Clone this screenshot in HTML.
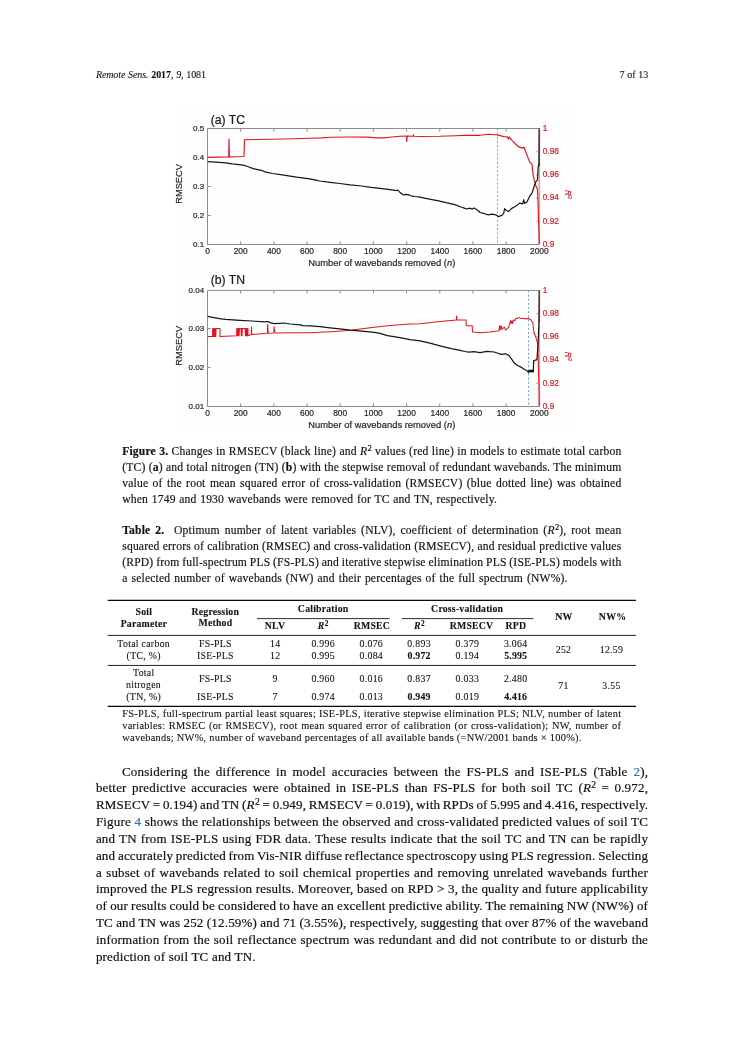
<!DOCTYPE html>
<html lang="en"><head><meta charset="utf-8"><title>Remote Sens. 2017, 9, 1081</title>
<style>
html,body{margin:0;padding:0;background:#fff;}
body{width:745px;height:1053px;position:relative;overflow:hidden;font-family:"Liberation Serif",serif;color:#111;}
#pg{position:absolute;left:0;top:0;width:745px;height:1053px;will-change:transform;}
.l{position:absolute;white-space:nowrap;margin:0;padding:0;}
.b{-webkit-text-stroke:0.2px;font-size:13.0px;line-height:16px;letter-spacing:0.2px;}
.c{-webkit-text-stroke:0.16px;font-size:11.6px;line-height:15px;letter-spacing:0.2px;}
.h{-webkit-text-stroke:0.1px;font-size:10.0px;line-height:14px;letter-spacing:0.15px;}
.f{-webkit-text-stroke:0.1px;font-size:10.4px;line-height:12px;letter-spacing:0.15px;}
.t{-webkit-text-stroke:0.1px;font-size:9.8px;line-height:12px;letter-spacing:0.3px;text-align:center;white-space:nowrap;}
.r{position:absolute;background:#000;height:1px;}
sup{font-size:0.74em;line-height:0;vertical-align:baseline;position:relative;top:-0.44em;letter-spacing:0;margin-left:0.03em;}
.t b{letter-spacing:0.2px;}
a{color:#2d75b8;text-decoration:none;}
b{font-weight:bold;}
svg text{font-family:"Liberation Sans",sans-serif;}
</style></head>
<body>
<div id="pg">
<div class="l j h" style="top:68px;left:95.9px;letter-spacing:-0.1px;word-spacing:0.434px;"><i>Remote Sens.</i> <b>2017</b>, <i>9</i>, 1081</div>
<div class="l j h" style="top:68px;left:619.5px;letter-spacing:-0.1px;word-spacing:0.48px;">7 of 13</div>
<svg width="745" height="440" viewBox="0 0 745 440" style="position:absolute;left:0;top:0">
<rect x="176" y="108.5" width="399" height="324.5" fill="#fefefe"/>
<rect x="207.5" y="128.5" width="331.8" height="116.0" fill="#fefefe"/>
<rect x="207.5" y="290.4" width="331.8" height="116.1" fill="#fefefe"/>
<line x1="207.5" y1="128.5" x2="207.5" y2="244.5" stroke="#8c8c8c" stroke-width="1.0" />
<line x1="207.5" y1="128.5" x2="539.3" y2="128.5" stroke="#8c8c8c" stroke-width="1.0" />
<line x1="207.5" y1="244.5" x2="539.3" y2="244.5" stroke="#8c8c8c" stroke-width="1.0" />
<line x1="539.3" y1="128.5" x2="539.3" y2="244.5" stroke="#f59696" stroke-width="1.6" />
<text x="207.5" y="253.9" font-size="8.4" fill="#262626" stroke="#262626" stroke-width="0.2" text-anchor="middle" >0</text>
<line x1="240.7" y1="244.5" x2="240.7" y2="241.3" stroke="#8c8c8c" stroke-width="1.0" />
<line x1="240.7" y1="128.5" x2="240.7" y2="131.7" stroke="#8c8c8c" stroke-width="1.0" />
<text x="240.7" y="253.9" font-size="8.4" fill="#262626" stroke="#262626" stroke-width="0.2" text-anchor="middle" >200</text>
<line x1="273.9" y1="244.5" x2="273.9" y2="241.3" stroke="#8c8c8c" stroke-width="1.0" />
<line x1="273.9" y1="128.5" x2="273.9" y2="131.7" stroke="#8c8c8c" stroke-width="1.0" />
<text x="273.9" y="253.9" font-size="8.4" fill="#262626" stroke="#262626" stroke-width="0.2" text-anchor="middle" >400</text>
<line x1="307.0" y1="244.5" x2="307.0" y2="241.3" stroke="#8c8c8c" stroke-width="1.0" />
<line x1="307.0" y1="128.5" x2="307.0" y2="131.7" stroke="#8c8c8c" stroke-width="1.0" />
<text x="307.0" y="253.9" font-size="8.4" fill="#262626" stroke="#262626" stroke-width="0.2" text-anchor="middle" >600</text>
<line x1="340.2" y1="244.5" x2="340.2" y2="241.3" stroke="#8c8c8c" stroke-width="1.0" />
<line x1="340.2" y1="128.5" x2="340.2" y2="131.7" stroke="#8c8c8c" stroke-width="1.0" />
<text x="340.2" y="253.9" font-size="8.4" fill="#262626" stroke="#262626" stroke-width="0.2" text-anchor="middle" >800</text>
<line x1="373.4" y1="244.5" x2="373.4" y2="241.3" stroke="#8c8c8c" stroke-width="1.0" />
<line x1="373.4" y1="128.5" x2="373.4" y2="131.7" stroke="#8c8c8c" stroke-width="1.0" />
<text x="373.4" y="253.9" font-size="8.4" fill="#262626" stroke="#262626" stroke-width="0.2" text-anchor="middle" >1000</text>
<line x1="406.6" y1="244.5" x2="406.6" y2="241.3" stroke="#8c8c8c" stroke-width="1.0" />
<line x1="406.6" y1="128.5" x2="406.6" y2="131.7" stroke="#8c8c8c" stroke-width="1.0" />
<text x="406.6" y="253.9" font-size="8.4" fill="#262626" stroke="#262626" stroke-width="0.2" text-anchor="middle" >1200</text>
<line x1="439.8" y1="244.5" x2="439.8" y2="241.3" stroke="#8c8c8c" stroke-width="1.0" />
<line x1="439.8" y1="128.5" x2="439.8" y2="131.7" stroke="#8c8c8c" stroke-width="1.0" />
<text x="439.8" y="253.9" font-size="8.4" fill="#262626" stroke="#262626" stroke-width="0.2" text-anchor="middle" >1400</text>
<line x1="472.9" y1="244.5" x2="472.9" y2="241.3" stroke="#8c8c8c" stroke-width="1.0" />
<line x1="472.9" y1="128.5" x2="472.9" y2="131.7" stroke="#8c8c8c" stroke-width="1.0" />
<text x="472.9" y="253.9" font-size="8.4" fill="#262626" stroke="#262626" stroke-width="0.2" text-anchor="middle" >1600</text>
<line x1="506.1" y1="244.5" x2="506.1" y2="241.3" stroke="#8c8c8c" stroke-width="1.0" />
<line x1="506.1" y1="128.5" x2="506.1" y2="131.7" stroke="#8c8c8c" stroke-width="1.0" />
<text x="506.1" y="253.9" font-size="8.4" fill="#262626" stroke="#262626" stroke-width="0.2" text-anchor="middle" >1800</text>
<text x="539.3" y="253.9" font-size="8.4" fill="#262626" stroke="#262626" stroke-width="0.2" text-anchor="middle" >2000</text>
<text x="204.2" y="131.2" font-size="8.0" fill="#262626" stroke="#262626" stroke-width="0.2" text-anchor="end" >0.5</text>
<line x1="207.5" y1="157.5" x2="210.7" y2="157.5" stroke="#8c8c8c" stroke-width="1.0" />
<text x="204.2" y="160.2" font-size="8.0" fill="#262626" stroke="#262626" stroke-width="0.2" text-anchor="end" >0.4</text>
<line x1="207.5" y1="186.5" x2="210.7" y2="186.5" stroke="#8c8c8c" stroke-width="1.0" />
<text x="204.2" y="189.2" font-size="8.0" fill="#262626" stroke="#262626" stroke-width="0.2" text-anchor="end" >0.3</text>
<line x1="207.5" y1="215.5" x2="210.7" y2="215.5" stroke="#8c8c8c" stroke-width="1.0" />
<text x="204.2" y="218.2" font-size="8.0" fill="#262626" stroke="#262626" stroke-width="0.2" text-anchor="end" >0.2</text>
<text x="204.2" y="247.2" font-size="8.0" fill="#262626" stroke="#262626" stroke-width="0.2" text-anchor="end" >0.1</text>
<text x="542.8" y="130.8" font-size="8.2" fill="#dc1626" stroke="#dc1626" stroke-width="0.2" text-anchor="start" >1</text>
<line x1="539.3" y1="151.7" x2="536.1" y2="151.7" stroke="#f59696" stroke-width="1.0" />
<text x="542.8" y="154.0" font-size="8.2" fill="#dc1626" stroke="#dc1626" stroke-width="0.2" text-anchor="start" >0.98</text>
<line x1="539.3" y1="174.9" x2="536.1" y2="174.9" stroke="#f59696" stroke-width="1.0" />
<text x="542.8" y="177.2" font-size="8.2" fill="#dc1626" stroke="#dc1626" stroke-width="0.2" text-anchor="start" >0.96</text>
<line x1="539.3" y1="198.1" x2="536.1" y2="198.1" stroke="#f59696" stroke-width="1.0" />
<text x="542.8" y="200.4" font-size="8.2" fill="#dc1626" stroke="#dc1626" stroke-width="0.2" text-anchor="start" >0.94</text>
<line x1="539.3" y1="221.3" x2="536.1" y2="221.3" stroke="#f59696" stroke-width="1.0" />
<text x="542.8" y="223.6" font-size="8.2" fill="#dc1626" stroke="#dc1626" stroke-width="0.2" text-anchor="start" >0.92</text>
<text x="542.8" y="246.8" font-size="8.2" fill="#dc1626" stroke="#dc1626" stroke-width="0.2" text-anchor="start" >0.9</text>
<text x="210.7" y="123.7" font-size="12.2" fill="#1a1a1a" stroke="#1a1a1a" stroke-width="0.2" text-anchor="start" >(a) TC</text>
<text x="381.8" y="266.2" font-size="9.4" fill="#262626" stroke="#262626" stroke-width="0.2" text-anchor="middle" >Number of wavebands removed (<tspan font-style="italic">n</tspan>)</text>
<text transform="translate(182.1,183.9) rotate(-90)" font-size="9.3" fill="#262626" stroke="#262626" stroke-width="0.2" text-anchor="middle">RMSECV</text>
<text transform="translate(565.0,189.9) rotate(90)" font-size="8.5" fill="#dc1626" stroke="#dc1626" stroke-width="0.15"><tspan font-style="italic">R</tspan><tspan font-size="5.5" dy="-3">2</tspan></text>
<line x1="497.5" y1="128.5" x2="497.5" y2="244.5" stroke="#3b82c4" stroke-width="0.7" stroke-dasharray="2.1 2.05"/>
<polyline points="207.5,157.4 228.7,156.9 229.0,139.0 229.4,156.9 244.0,156.5 244.5,139.8 270.0,139.3 295.0,138.8 310.0,138.2 322.0,137.9 330.0,137.2 350.0,137.0 368.0,137.1 376.0,137.9 384.0,137.9 392.0,137.0 400.0,136.2 406.5,136.1 406.8,141.4 407.2,136.1 413.2,136.2 413.5,134.8 413.8,136.3 420.0,136.5 440.0,136.3 455.0,135.8 463.6,135.4 480.0,135.3 488.3,134.3 495.4,134.7 498.4,135.1 503.7,136.6 507.3,136.9 508.5,139.2 509.1,136.9 512.0,140.4 515.6,144.0 518.0,146.4 522.1,148.1 524.1,147.3 525.7,151.7 528.6,159.4 530.4,163.0 532.0,164.1 532.8,172.5 534.0,179.6 535.8,185.5 537.5,189.6 538.1,205.7 538.5,219.9 539.0,231.8 539.3,244.3" fill="none" stroke="#e21420" stroke-width="1.15" stroke-linejoin="round" />
<polyline points="207.7,161.6 216.1,162.2 225.8,162.8 232.2,163.8 243.5,165.1 248.3,166.7 253.2,168.6 261.2,170.3 265.2,171.9 272.5,173.5 283.8,175.1 296.6,177.2 309.5,178.8 316.0,180.2 319.7,181.0 330.0,182.3 340.0,183.5 350.0,184.8 361.6,186.0 371.0,187.3 380.0,188.3 390.0,189.6 397.0,190.6 398.0,190.0 399.5,192.0 403.5,195.0 406.0,194.4 408.0,194.6 411.0,195.8 415.0,196.5 420.0,197.1 428.0,198.8 437.5,200.6 446.0,202.7 454.9,204.6 461.0,207.0 465.0,208.4 467.1,209.0 470.0,208.2 472.0,209.1 474.1,208.0 478.0,210.5 480.0,212.5 484.7,213.7 488.3,214.9 491.9,214.2 496.0,214.9 498.4,216.6 501.9,215.4 503.7,213.4 504.6,208.6 505.5,209.8 508.5,211.6 511.4,208.6 515.6,206.3 519.7,203.1 522.7,203.9 523.7,199.7 524.5,203.3 526.9,202.1 529.8,196.2 532.2,192.6 534.0,186.7 535.8,181.9 537.5,180.2 538.1,167.7 539.0,163.0 539.3,128.6" fill="none" stroke="#151515" stroke-width="1.2" stroke-linejoin="round" />
<line x1="539.4" y1="128.5" x2="539.4" y2="166.0" stroke="#444" stroke-width="1.3" />
<line x1="207.5" y1="290.4" x2="207.5" y2="406.5" stroke="#8c8c8c" stroke-width="1.0" />
<line x1="207.5" y1="290.4" x2="539.3" y2="290.4" stroke="#8c8c8c" stroke-width="1.0" />
<line x1="207.5" y1="406.5" x2="539.3" y2="406.5" stroke="#8c8c8c" stroke-width="1.0" />
<line x1="539.3" y1="290.4" x2="539.3" y2="406.5" stroke="#f59696" stroke-width="1.6" />
<text x="207.5" y="415.9" font-size="8.4" fill="#262626" stroke="#262626" stroke-width="0.2" text-anchor="middle" >0</text>
<line x1="240.7" y1="406.5" x2="240.7" y2="403.3" stroke="#8c8c8c" stroke-width="1.0" />
<line x1="240.7" y1="290.4" x2="240.7" y2="293.6" stroke="#8c8c8c" stroke-width="1.0" />
<text x="240.7" y="415.9" font-size="8.4" fill="#262626" stroke="#262626" stroke-width="0.2" text-anchor="middle" >200</text>
<line x1="273.9" y1="406.5" x2="273.9" y2="403.3" stroke="#8c8c8c" stroke-width="1.0" />
<line x1="273.9" y1="290.4" x2="273.9" y2="293.6" stroke="#8c8c8c" stroke-width="1.0" />
<text x="273.9" y="415.9" font-size="8.4" fill="#262626" stroke="#262626" stroke-width="0.2" text-anchor="middle" >400</text>
<line x1="307.0" y1="406.5" x2="307.0" y2="403.3" stroke="#8c8c8c" stroke-width="1.0" />
<line x1="307.0" y1="290.4" x2="307.0" y2="293.6" stroke="#8c8c8c" stroke-width="1.0" />
<text x="307.0" y="415.9" font-size="8.4" fill="#262626" stroke="#262626" stroke-width="0.2" text-anchor="middle" >600</text>
<line x1="340.2" y1="406.5" x2="340.2" y2="403.3" stroke="#8c8c8c" stroke-width="1.0" />
<line x1="340.2" y1="290.4" x2="340.2" y2="293.6" stroke="#8c8c8c" stroke-width="1.0" />
<text x="340.2" y="415.9" font-size="8.4" fill="#262626" stroke="#262626" stroke-width="0.2" text-anchor="middle" >800</text>
<line x1="373.4" y1="406.5" x2="373.4" y2="403.3" stroke="#8c8c8c" stroke-width="1.0" />
<line x1="373.4" y1="290.4" x2="373.4" y2="293.6" stroke="#8c8c8c" stroke-width="1.0" />
<text x="373.4" y="415.9" font-size="8.4" fill="#262626" stroke="#262626" stroke-width="0.2" text-anchor="middle" >1000</text>
<line x1="406.6" y1="406.5" x2="406.6" y2="403.3" stroke="#8c8c8c" stroke-width="1.0" />
<line x1="406.6" y1="290.4" x2="406.6" y2="293.6" stroke="#8c8c8c" stroke-width="1.0" />
<text x="406.6" y="415.9" font-size="8.4" fill="#262626" stroke="#262626" stroke-width="0.2" text-anchor="middle" >1200</text>
<line x1="439.8" y1="406.5" x2="439.8" y2="403.3" stroke="#8c8c8c" stroke-width="1.0" />
<line x1="439.8" y1="290.4" x2="439.8" y2="293.6" stroke="#8c8c8c" stroke-width="1.0" />
<text x="439.8" y="415.9" font-size="8.4" fill="#262626" stroke="#262626" stroke-width="0.2" text-anchor="middle" >1400</text>
<line x1="472.9" y1="406.5" x2="472.9" y2="403.3" stroke="#8c8c8c" stroke-width="1.0" />
<line x1="472.9" y1="290.4" x2="472.9" y2="293.6" stroke="#8c8c8c" stroke-width="1.0" />
<text x="472.9" y="415.9" font-size="8.4" fill="#262626" stroke="#262626" stroke-width="0.2" text-anchor="middle" >1600</text>
<line x1="506.1" y1="406.5" x2="506.1" y2="403.3" stroke="#8c8c8c" stroke-width="1.0" />
<line x1="506.1" y1="290.4" x2="506.1" y2="293.6" stroke="#8c8c8c" stroke-width="1.0" />
<text x="506.1" y="415.9" font-size="8.4" fill="#262626" stroke="#262626" stroke-width="0.2" text-anchor="middle" >1800</text>
<text x="539.3" y="415.9" font-size="8.4" fill="#262626" stroke="#262626" stroke-width="0.2" text-anchor="middle" >2000</text>
<text x="204.2" y="293.0" font-size="8.0" fill="#262626" stroke="#262626" stroke-width="0.2" text-anchor="end" >0.04</text>
<line x1="207.5" y1="328.5" x2="210.7" y2="328.5" stroke="#8c8c8c" stroke-width="1.0" />
<text x="204.2" y="331.2" font-size="8.0" fill="#262626" stroke="#262626" stroke-width="0.2" text-anchor="end" >0.03</text>
<line x1="207.5" y1="367.4" x2="210.7" y2="367.4" stroke="#8c8c8c" stroke-width="1.0" />
<text x="204.2" y="370.1" font-size="8.0" fill="#262626" stroke="#262626" stroke-width="0.2" text-anchor="end" >0.02</text>
<text x="204.2" y="409.0" font-size="8.0" fill="#262626" stroke="#262626" stroke-width="0.2" text-anchor="end" >0.01</text>
<text x="542.8" y="292.7" font-size="8.2" fill="#dc1626" stroke="#dc1626" stroke-width="0.2" text-anchor="start" >1</text>
<line x1="539.3" y1="313.6" x2="536.1" y2="313.6" stroke="#f59696" stroke-width="1.0" />
<text x="542.8" y="315.9" font-size="8.2" fill="#dc1626" stroke="#dc1626" stroke-width="0.2" text-anchor="start" >0.98</text>
<line x1="539.3" y1="336.8" x2="536.1" y2="336.8" stroke="#f59696" stroke-width="1.0" />
<text x="542.8" y="339.1" font-size="8.2" fill="#dc1626" stroke="#dc1626" stroke-width="0.2" text-anchor="start" >0.96</text>
<line x1="539.3" y1="360.1" x2="536.1" y2="360.1" stroke="#f59696" stroke-width="1.0" />
<text x="542.8" y="362.4" font-size="8.2" fill="#dc1626" stroke="#dc1626" stroke-width="0.2" text-anchor="start" >0.94</text>
<line x1="539.3" y1="383.3" x2="536.1" y2="383.3" stroke="#f59696" stroke-width="1.0" />
<text x="542.8" y="385.6" font-size="8.2" fill="#dc1626" stroke="#dc1626" stroke-width="0.2" text-anchor="start" >0.92</text>
<text x="542.8" y="408.8" font-size="8.2" fill="#dc1626" stroke="#dc1626" stroke-width="0.2" text-anchor="start" >0.9</text>
<text x="210.7" y="283.5" font-size="12.2" fill="#1a1a1a" stroke="#1a1a1a" stroke-width="0.2" text-anchor="start" >(b) TN</text>
<text x="381.8" y="428.2" font-size="9.4" fill="#262626" stroke="#262626" stroke-width="0.2" text-anchor="middle" >Number of wavebands removed (<tspan font-style="italic">n</tspan>)</text>
<text transform="translate(182.1,345.8) rotate(-90)" font-size="9.3" fill="#262626" stroke="#262626" stroke-width="0.2" text-anchor="middle">RMSECV</text>
<text transform="translate(565.0,351.8) rotate(90)" font-size="8.5" fill="#dc1626" stroke="#dc1626" stroke-width="0.15"><tspan font-style="italic">R</tspan><tspan font-size="5.5" dy="-3">2</tspan></text>
<line x1="528.5" y1="290.4" x2="528.5" y2="406.5" stroke="#3b82c4" stroke-width="0.7" stroke-dasharray="2.1 2.05"/>
<polyline points="207.5,336.6 212.6,336.4 212.6,328.5 212.6,328.5 212.9,336.4 213.3,328.5 213.6,336.4 214.0,328.5 214.3,336.4 214.7,328.5 215.0,336.4 215.4,328.5 215.7,336.4 216.1,328.5 220.0,328.5 220.0,336.4 236.6,335.8 236.7,335.7 236.7,328.5 236.7,328.5 237.0,335.7 237.4,328.5 237.7,335.7 238.1,328.5 238.4,335.7 238.8,328.5 239.1,335.7 239.5,328.5 241.0,328.5 241.3,335.7 241.7,328.5 242.0,335.7 242.4,328.5 245.1,328.5 245.4,335.7 245.8,328.5 246.1,335.7 246.5,328.5 246.8,335.7 247.2,328.5 247.5,335.7 247.9,328.5 248.0,328.5 248.0,335.7 251.3,334.4 251.5,327.0 251.8,334.4 267.3,333.2 267.6,324.4 268.2,333.2 273.8,333.1 274.1,326.8 274.6,332.0 275.5,333.0 290.0,332.8 310.0,332.7 320.0,332.3 335.0,331.4 350.3,330.3 370.0,327.8 390.0,325.6 410.0,324.0 420.0,323.7 440.0,321.6 456.3,320.0 456.6,316.0 456.9,320.0 466.0,320.1 466.3,325.7 472.2,325.8 472.5,332.1 480.0,332.8 489.5,331.9 499.0,330.7 499.6,325.9 500.2,329.6 500.8,325.9 501.4,326.2 501.9,329.5 504.3,327.1 505.5,330.1 508.5,327.7 510.6,320.6 511.2,323.4 512.0,321.0 512.6,323.4 513.2,320.0 515.0,320.6 515.6,318.8 519.1,317.6 521.0,318.6 523.9,318.4 526.0,319.0 528.3,318.2 531.0,320.0 532.8,323.0 534.0,332.5 535.8,337.2 537.8,344.3 538.4,368.0 539.0,386.5 539.3,406.3" fill="none" stroke="#e21420" stroke-width="1.05" stroke-linejoin="round" />
<polyline points="207.7,316.4 214.0,317.6 221.0,318.9 226.0,319.4 240.0,320.3 252.0,321.0 264.4,321.8 268.0,321.5 270.0,322.6 274.1,323.7 280.0,323.3 284.0,323.0 290.0,324.0 300.0,324.9 303.0,325.6 310.0,325.8 320.0,326.6 330.0,327.8 342.2,329.2 350.0,330.2 362.0,331.2 374.5,332.3 380.0,333.4 387.4,335.6 400.0,337.6 410.0,339.6 420.0,340.8 430.0,343.2 440.0,345.8 451.4,348.7 460.0,350.4 465.0,351.5 468.9,352.2 474.0,351.6 480.0,352.6 487.1,351.4 494.2,352.0 497.8,353.2 501.4,354.4 505.5,353.8 509.1,355.6 512.0,359.7 514.4,363.3 518.0,365.7 521.5,367.4 525.1,369.8 527.6,371.0 528.3,372.6 528.9,370.6 529.4,372.0 529.9,370.2 530.4,371.8 530.9,370.3 531.4,371.9 531.9,370.1 532.4,371.8 532.9,370.2 533.4,371.9 533.6,360.9 536.9,359.5 538.1,344.3 539.0,320.6 539.4,290.4" fill="none" stroke="#151515" stroke-width="1.2" stroke-linejoin="round" />
<line x1="539.4" y1="290.4" x2="539.4" y2="322.0" stroke="#444" stroke-width="1.3" />
</svg>
<div class="l j c" style="top:444px;left:122.2px;letter-spacing:0.19px;word-spacing:0.173px;"><b>Figure 3.</b> Changes in RMSECV (black line) and <i>R</i><sup>2</sup> values (red line) in models to estimate total carbon</div>
<div class="l j c" style="top:460px;left:122.2px;letter-spacing:0.19px;word-spacing:0.111px;">(TC) (<b>a</b>) and total nitrogen (TN) (<b>b</b>) with the stepwise removal of redundant wavebands. The minimum</div>
<div class="l j c" style="top:476px;left:122.2px;letter-spacing:0.19px;word-spacing:1.271px;">value of the root mean squared error of cross-validation (RMSECV) (blue dotted line) was obtained</div>
<div class="l j c" style="top:492px;left:122.2px;letter-spacing:0.19px;word-spacing:0.521px;">when 1749 and 1930 wavebands were removed for TC and TN, respectively.</div>
<div class="l j c" style="top:523px;left:122.2px;letter-spacing:0.19px;word-spacing:1.76px;"><b>Table 2.</b>&nbsp; Optimum number of latent variables (NLV), coefficient of determination (<i>R</i><sup>2</sup>), root mean</div>
<div class="l j c" style="top:539px;left:122.2px;letter-spacing:0.19px;word-spacing:0.059px;">squared errors of calibration (RMSEC) and cross-validation (RMSECV), and residual predictive values</div>
<div class="l j c" style="top:555px;left:122.2px;letter-spacing:0.19px;word-spacing:-0.366px;">(RPD) from full-spectrum PLS (FS-PLS) and iterative stepwise elimination PLS (ISE-PLS) models with</div>
<div class="l j c" style="top:571px;left:122.2px;letter-spacing:0.19px;word-spacing:0.835px;">a selected number of wavebands (NW) and their percentages of the full spectrum (NW%).</div>
<svg width="745" height="120" viewBox="0 595 745 120" style="position:absolute;left:0;top:595px"><line x1="107.7" y1="600.3" x2="636.0" y2="600.3" stroke="#0a0a0a" stroke-width="1.25"/><line x1="257.0" y1="618.6" x2="389.6" y2="618.6" stroke="#0a0a0a" stroke-width="0.85"/><line x1="401.7" y1="618.6" x2="533.4" y2="618.6" stroke="#0a0a0a" stroke-width="0.85"/><line x1="107.7" y1="635.4" x2="636.0" y2="635.4" stroke="#0a0a0a" stroke-width="0.9"/><line x1="107.7" y1="665.45" x2="636.0" y2="665.45" stroke="#0a0a0a" stroke-width="0.9"/><line x1="107.7" y1="706.3" x2="636.0" y2="706.3" stroke="#0a0a0a" stroke-width="1.25"/></svg>
<div class="l t" style="top:606px;left:103.8px;width:80px;"><b>Soil</b></div>
<div class="l t" style="top:618px;left:103.9px;width:80px;"><b>Parameter</b></div>
<div class="l t" style="top:606px;left:175.3px;width:80px;"><b>Regression</b></div>
<div class="l t" style="top:617px;left:175.4px;width:80px;"><b>Method</b></div>
<div class="l t" style="top:603px;left:283.2px;width:80px;"><b>Calibration</b></div>
<div class="l t" style="top:603px;left:407.2px;width:120px;"><b>Cross-validation</b></div>
<div class="l t" style="top:620px;left:235.0px;width:80px;"><b>NLV</b></div>
<div class="l t" style="top:620px;left:283.1px;width:80px;"><b><i>R</i><sup>2</sup></b></div>
<div class="l t" style="top:620px;left:331.9px;width:80px;"><b>RMSEC</b></div>
<div class="l t" style="top:620px;left:379.4px;width:80px;"><b><i>R</i><sup>2</sup></b></div>
<div class="l t" style="top:620px;left:431.5px;width:80px;"><b>RMSECV</b></div>
<div class="l t" style="top:620px;left:475.8px;width:80px;"><b>RPD</b></div>
<div class="l t" style="top:611px;left:523.9px;width:80px;"><b>NW</b></div>
<div class="l t" style="top:611px;left:572.5px;width:80px;"><b>NW%</b></div>
<div class="l t" style="top:638px;left:235.2px;width:80px;">14</div>
<div class="l t" style="top:638px;left:283.2px;width:80px;">0.996</div>
<div class="l t" style="top:638px;left:331.3px;width:80px;">0.076</div>
<div class="l t" style="top:638px;left:379.1px;width:80px;">0.893</div>
<div class="l t" style="top:638px;left:427.4px;width:80px;">0.379</div>
<div class="l t" style="top:638px;left:475.7px;width:80px;">3.064</div>
<div class="l t" style="top:650px;left:235.2px;width:80px;">12</div>
<div class="l t" style="top:650px;left:283.2px;width:80px;">0.995</div>
<div class="l t" style="top:650px;left:331.3px;width:80px;">0.084</div>
<div class="l t" style="top:650px;left:379.1px;width:80px;"><b>0.972</b></div>
<div class="l t" style="top:650px;left:427.4px;width:80px;">0.194</div>
<div class="l t" style="top:650px;left:475.7px;width:80px;"><b>5.995</b></div>
<div class="l t" style="top:673px;left:235.2px;width:80px;">9</div>
<div class="l t" style="top:673px;left:283.2px;width:80px;">0.960</div>
<div class="l t" style="top:673px;left:331.3px;width:80px;">0.016</div>
<div class="l t" style="top:673px;left:379.1px;width:80px;">0.837</div>
<div class="l t" style="top:673px;left:427.4px;width:80px;">0.033</div>
<div class="l t" style="top:673px;left:475.7px;width:80px;">2.480</div>
<div class="l t" style="top:691px;left:235.2px;width:80px;">7</div>
<div class="l t" style="top:691px;left:283.2px;width:80px;">0.974</div>
<div class="l t" style="top:691px;left:331.3px;width:80px;">0.013</div>
<div class="l t" style="top:691px;left:379.1px;width:80px;"><b>0.949</b></div>
<div class="l t" style="top:691px;left:427.4px;width:80px;">0.019</div>
<div class="l t" style="top:691px;left:475.7px;width:80px;"><b>4.416</b></div>
<div class="l t" style="top:638px;left:103.7px;width:80px;">Total carbon</div>
<div class="l t" style="top:650px;left:103.7px;width:80px;">(TC, %)</div>
<div class="l t" style="top:667px;left:103.8px;width:80px;">Total</div>
<div class="l t" style="top:679px;left:103.5px;width:80px;">nitrogen</div>
<div class="l t" style="top:691px;left:103.7px;width:80px;">(TN, %)</div>
<div class="l t" style="top:638px;left:175.4px;width:80px;">FS-PLS</div>
<div class="l t" style="top:650px;left:175.4px;width:80px;">ISE-PLS</div>
<div class="l t" style="top:673px;left:175.4px;width:80px;">FS-PLS</div>
<div class="l t" style="top:691px;left:175.4px;width:80px;">ISE-PLS</div>
<div class="l t" style="top:644px;left:523.5px;width:80px;">252</div>
<div class="l t" style="top:644px;left:571.5px;width:80px;">12.59</div>
<div class="l t" style="top:680px;left:523.5px;width:80px;">71</div>
<div class="l t" style="top:680px;left:571.5px;width:80px;">3.55</div>
<div class="l j f" style="top:708px;left:122.3px;letter-spacing:0.26px;word-spacing:0.201px;">FS-PLS, full-spectrum partial least squares; ISE-PLS, iterative stepwise elimination PLS; NLV, number of latent</div>
<div class="l j f" style="top:720px;left:122.3px;letter-spacing:0.26px;word-spacing:0.7px;">variables: RMSEC (or RMSECV), root mean squared error of calibration (or cross-validation); NW, number of</div>
<div class="l j f" style="top:732px;left:122.3px;letter-spacing:0.26px;word-spacing:0.042px;">wavebands; NW%, number of waveband percentages of all available bands (=NW/2001 bands × 100%).</div>
<div class="l j b" style="top:764px;left:122.0px;letter-spacing:0.19px;word-spacing:2.439px;">Considering the difference in model accuracies between the FS-PLS and ISE-PLS (Table <a>2</a>),</div>
<div class="l j b" style="top:780px;left:95.9px;letter-spacing:0.19px;word-spacing:1.955px;">better predictive accuracies were obtained in ISE-PLS than FS-PLS for both soil TC (<i>R</i><sup>2</sup> = 0.972,</div>
<div class="l j b" style="top:797px;left:95.9px;letter-spacing:0.15px;word-spacing:-0.7px;">RMSECV = 0.194) and TN (<i>R</i><sup>2</sup> = 0.949, RMSECV = 0.019), with RPDs of 5.995 and 4.416, respectively.</div>
<div class="l j b" style="top:814px;left:95.9px;letter-spacing:0.19px;word-spacing:0.077px;">Figure <a>4</a> shows the relationships between the observed and cross-validated predicted values of soil TC</div>
<div class="l j b" style="top:831px;left:95.9px;letter-spacing:0.19px;word-spacing:0.561px;">and TN from ISE-PLS using FDR data. These results indicate that the soil TC and TN can be rapidly</div>
<div class="l j b" style="top:848px;left:95.9px;letter-spacing:0.179px;word-spacing:-0.7px;">and accurately predicted from Vis-NIR diffuse reflectance spectroscopy using PLS regression. Selecting</div>
<div class="l j b" style="top:865px;left:95.9px;letter-spacing:0.19px;word-spacing:0.864px;">a subset of wavebands related to soil chemical properties and removing unrelated wavebands further</div>
<div class="l j b" style="top:881px;left:95.9px;letter-spacing:0.19px;word-spacing:-0.014px;">improved the PLS regression results. Moreover, based on RPD &gt; 3, the quality and future applicability</div>
<div class="l j b" style="top:898px;left:95.9px;letter-spacing:0.19px;word-spacing:-0.379px;">of our results could be considered to have an excellent predictive ability. The remaining NW (NW%) of</div>
<div class="l j b" style="top:915px;left:95.9px;letter-spacing:0.19px;word-spacing:-0.193px;">TC and TN was 252 (12.59%) and 71 (3.55%), respectively, suggesting that over 87% of the waveband</div>
<div class="l j b" style="top:932px;left:95.9px;letter-spacing:0.19px;word-spacing:0.564px;">information from the soil reflectance spectrum was redundant and did not contribute to or disturb the</div>
<div class="l j b" style="top:949px;left:95.9px;letter-spacing:0.19px;word-spacing:0.044px;">prediction of soil TC and TN.</div>
</div>
</body></html>
